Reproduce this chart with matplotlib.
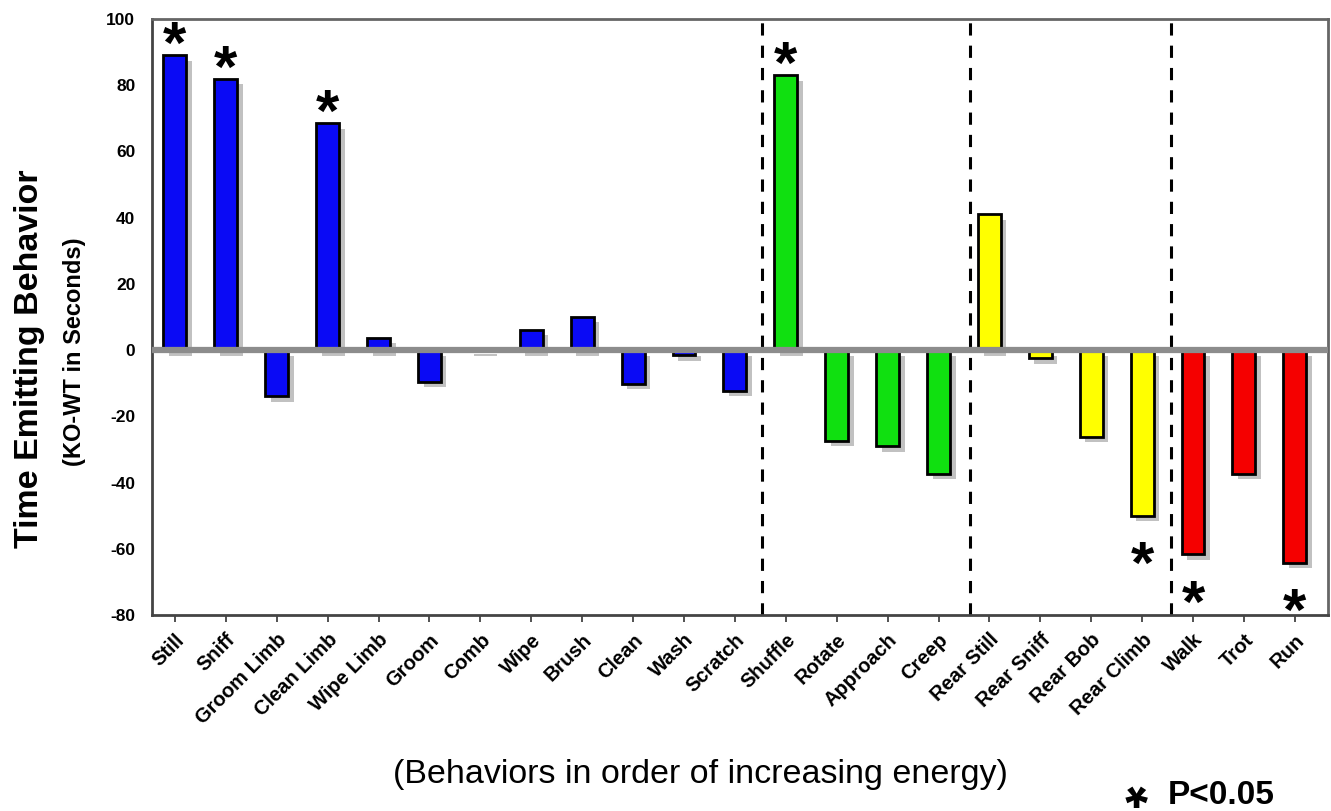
import matplotlib
matplotlib.use("Agg")
import matplotlib.pyplot as plt
import matplotlib.patheffects as pe

plt.rcParams['font.family'] = ['Liberation Sans', 'DejaVu Sans']
plt.rcParams['axes.unicode_minus'] = False

behaviors = ['Still', 'Sniff', 'Groom Limb', 'Clean Limb', 'Wipe Limb', 'Groom',
             'Comb', 'Wipe', 'Brush', 'Clean', 'Wash', 'Scratch',
             'Shuffle', 'Rotate', 'Approach', 'Creep',
             'Rear Still', 'Rear Sniff', 'Rear Bob', 'Rear Climb',
             'Walk', 'Trot', 'Run']
ko_minus_wt = [89, 82, -14, 68.5, 3.7, -9.6, 0.5, 6.2, 10.1, -10.2, -1.5, -12.3,
               83, -27.4, -29, -37.4,
               41, -2.4, -26.2, -50,
               -61.6, -37.4, -64.2]
group_sizes = [12, 4, 4, 3]
group_colors = ['#0a0af5', '#10e010', '#ffff00', '#f50000']
significant = ['Still', 'Sniff', 'Clean Limb', 'Shuffle', 'Rear Climb', 'Walk', 'Run']
group_dividers = [11.53, 15.62, 19.57]

colors = []
for n, c in zip(group_sizes, group_colors):
    colors += [c] * n

fig = plt.figure(figsize=(13.31, 8.11), dpi=100)
ax = fig.add_axes([0.1142, 0.2417, 0.8835, 0.7349])

x = list(range(len(behaviors)))
bars = ax.bar(x, ko_minus_wt, width=0.45, color=colors, edgecolor='black',
              linewidth=2, zorder=3)
for b in bars:
    b.set_path_effects([pe.SimplePatchShadow(offset=(4, -4), shadow_rgbFace='#777777', alpha=0.45),
                        pe.Normal()])

ax.axhline(0, color='#8c8c8c', linewidth=4.5, zorder=4)
for d in group_dividers:
    ax.axvline(d, color='black', linewidth=2.2, linestyle=(0, (4, 3.3)), zorder=2)

# significance asterisks
fs_star = 43
for name in significant:
    i = behaviors.index(name)
    v = ko_minus_wt[i]
    yy = v + 6.3 if v > 0 else v - 11.7
    ax.annotate('*', xy=(i, yy), xytext=(0, -0.48 * fs_star), textcoords='offset points',
                ha='center', va='baseline', fontsize=fs_star, fontweight='bold', zorder=5)

ax.set_xlim(-0.45, 22.65)
ax.set_ylim(-80, 100)
ax.set_yticks(range(-80, 101, 20))
ax.set_xticks(x)
ax.set_xticklabels(behaviors, rotation=45, ha='right', rotation_mode='anchor',
                   fontsize=14.5, fontweight='bold')
for lab in ax.get_yticklabels():
    lab.set_fontweight('bold')
    lab.set_fontsize(12.5)
ax.tick_params(axis='y', length=0, pad=12)
ax.tick_params(axis='x', length=5, width=1.2, pad=6, color='#333333')

for side in ['left', 'bottom']:
    ax.spines[side].set_color('#444444')
    ax.spines[side].set_linewidth(2)
for side in ['top', 'right']:
    ax.spines[side].set_color('#666666')
    ax.spines[side].set_linewidth(2)

fig.text(30 / 1331, 1 - 359 / 811, 'Time Emitting Behavior', rotation=90,
         ha='center', va='center', fontsize=24.5, fontweight='bold')
fig.text(75 / 1331, 1 - 352 / 811, '(KO-WT in Seconds)', rotation=90,
         ha='center', va='center', fontsize=17, fontweight='bold')
fig.text(700 / 1331, 1 - 775 / 811, '(Behaviors in order of increasing energy)',
         ha='center', va='center', fontsize=24.5)
# legend asterisk: turned upside down so the glyph sits at the bottom of its box
fig.text(1136 / 1331, 3 / 811, '*', ha='center', va='bottom', rotation=180,
         fontsize=42, fontweight='bold')
fig.text(1168 / 1331, 1 - 796 / 811, 'P<0.05', ha='left', va='center',
         fontsize=24, fontweight='bold')

fig.savefig('out.png', dpi=100)
